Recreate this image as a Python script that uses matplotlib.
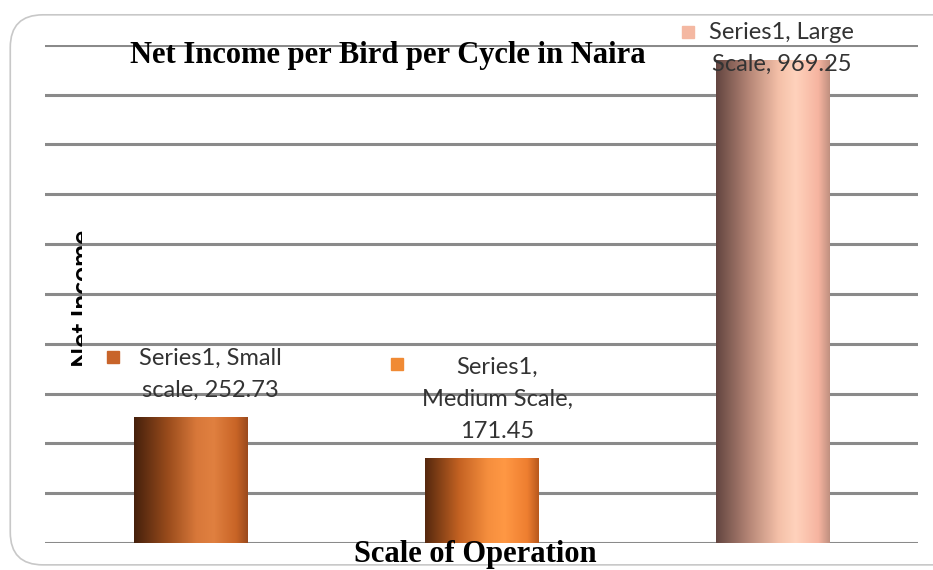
import matplotlib
matplotlib.use('Agg')
import matplotlib.pyplot as plt
import numpy as np
from matplotlib.colors import LinearSegmentedColormap
from matplotlib.patches import FancyBboxPatch
from matplotlib.transforms import Bbox

categories = ["Small scale", "Medium Scale", "Large Scale"]
net_income = [252.73, 171.45, 969.25]
label_texts = ["Series1, Small\nscale, 252.73",
               "Series1,\nMedium Scale,\n171.45",
               "Series1, Large\nScale, 969.25"]
yticks = list(range(0, 1001, 100))

bar_shades = [
    ["#45200c", "#9a4c1c", "#d8783a", "#e08040", "#c86426", "#9a4a1e"],
    ["#55280e", "#c46222", "#f58e3e", "#ff9844", "#ee7e30", "#b8581c"],
    ["#634540", "#b88878", "#f4c0a8", "#ffd2bc", "#f6b4a0", "#c09080"],
]
marker_colors = ["#c8642a", "#f08a34", "#f4b8a2"]

fig = plt.figure(figsize=(9.33, 5.70), dpi=100)

# rounded chart frame
frame = FancyBboxPatch((0.011, 0.009), 1.05, 0.965, boxstyle="round,pad=0,rounding_size=0.035",
                       transform=fig.transFigure, facecolor="none", edgecolor="#c8c8c8",
                       linewidth=1.2, mutation_aspect=933 / 570, zorder=-1)
fig.patches.append(frame)

ax = fig.add_axes([0.048, 0.0474, 0.936, 0.874])
ax.set_facecolor("none")
x = np.arange(len(categories))
width = 0.39
bars = ax.bar(x, net_income, width=width, color="none", zorder=2)

# gradient fill for each bar
grad = np.linspace(0, 1, 256).reshape(1, -1)
for b, shades in zip(bars, bar_shades):
    cmap = LinearSegmentedColormap.from_list("g", list(zip([0, 0.3, 0.55, 0.7, 0.9, 1.0], shades)))
    im = ax.imshow(grad, cmap=cmap, aspect="auto", zorder=2,
                   extent=[b.get_x(), b.get_x() + b.get_width(), 0, b.get_height()])
    im.set_clip_path(b)

ax.set_xlim(-0.5, 2.5)
ax.set_ylim(0, 1000)

for yv in yticks:
    ax.axhline(yv, color="#8a8a8a", linewidth=2.2, zorder=1)

for s in ax.spines.values():
    s.set_visible(False)
ax.set_xticks([])
ax.set_yticks([])

# y label, cut off on its right side like in the original
ylab = ax.text(-0.37, 491, "Net Income", rotation=90, ha="center", va="center",
               fontsize=19, fontweight="bold", family="Lato", color="black", zorder=3)
ylab.set_clip_on(True)
ylab.set_clip_box(Bbox([[0, 0], [82, 570]]))

# data labels
lab_font = dict(fontsize=17, family="Lato", color="#333333", linespacing=1.65)
label_pos = [(0.07, 392), (1.055, 374), (2.03, 1046)]
for (lx, ly), txt in zip(label_pos, label_texts):
    ax.text(lx, ly, txt, ha="center", va="top", zorder=4, clip_on=False, **lab_font)

marker_x = [-0.266, 0.71, 1.71]
marker_y = [373, 359, 1025]
for mx, my, mc in zip(marker_x, marker_y, marker_colors):
    ax.plot([mx], [my], marker="s", markersize=8, color=mc, zorder=5, clip_on=False)

fig.text(0.416, 0.903, "Net Income per Bird per Cycle in Naira", ha="center", va="center",
         fontsize=22, fontweight="bold", family="Liberation Serif")
fig.text(0.509, 0.028, "Scale of Operation", ha="center", va="center",
         fontsize=22, fontweight="bold", family="Liberation Serif")

plt.savefig("out.png", dpi=100)
